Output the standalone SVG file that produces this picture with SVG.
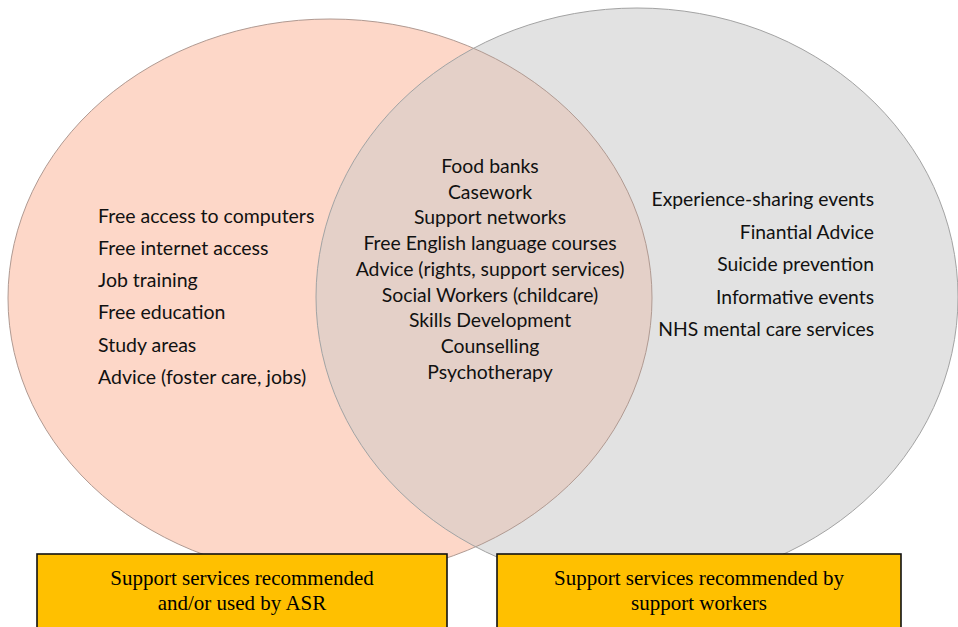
<svg xmlns="http://www.w3.org/2000/svg" width="958" height="627" viewBox="0 0 958 627">
  <style>
    .item { font-family: Lato, "Liberation Sans", sans-serif; font-size: 19.5px; fill: #111; }
    .mid { text-anchor: middle; font-size: 19.4px; }
    .end { text-anchor: end; font-size: 19.3px; }
    .label { font-family: "Liberation Serif", "Times New Roman", serif; font-size: 21px; fill: #000; text-anchor: middle; }
    .box { fill: #FFC000; stroke: #111; stroke-width: 1.6; }
  </style>
  <defs>
    <clipPath id="clipRight">
      <ellipse cx="637" cy="297" rx="321" ry="289"/>
    </clipPath>
  </defs>

  <rect width="958" height="627" fill="#fff"/>

  <!-- Venn sets -->
  <g id="set-asr">
    <ellipse cx="330" cy="298" rx="322" ry="279" fill="#FDD7C8"/>
  </g>
  <g id="set-workers">
    <ellipse cx="637" cy="297" rx="321" ry="289" fill="#E2E2E2"/>
  </g>
  <g id="set-overlap">
    <ellipse cx="330" cy="298" rx="322" ry="279" fill="#E4D0C8" clip-path="url(#clipRight)"/>
  </g>
  <g id="outlines" fill="none" stroke-width="1">
    <ellipse cx="330" cy="298" rx="322" ry="279" stroke="#B09A92"/>
    <ellipse cx="637" cy="297" rx="321" ry="289" stroke="#A3A3A3"/>
  </g>

  <!-- ASR-only items -->
  <g id="asr-items" class="item">
    <text x="98" y="223">Free access to computers</text>
    <text x="98" y="255">Free internet access</text>
    <text x="98" y="287">Job training</text>
    <text x="98" y="319">Free education</text>
    <text x="98" y="352">Study areas</text>
    <text x="98" y="384">Advice (foster care, jobs)</text>
  </g>

  <!-- Shared items -->
  <g id="shared-items" class="item mid">
    <text x="490" y="173">Food banks</text>
    <text x="490" y="199">Casework</text>
    <text x="490" y="224">Support networks</text>
    <text x="490" y="250">Free English language courses</text>
    <text x="490" y="276">Advice (rights, support services)</text>
    <text x="490" y="302">Social Workers (childcare)</text>
    <text x="490" y="327">Skills Development</text>
    <text x="490" y="353">Counselling</text>
    <text x="490" y="379">Psychotherapy</text>
  </g>

  <!-- Support-worker-only items -->
  <g id="worker-items" class="item end">
    <text x="874" y="206">Experience-sharing events</text>
    <text x="874" y="239">Finantial Advice</text>
    <text x="874" y="271">Suicide prevention</text>
    <text x="874" y="304">Informative events</text>
    <text x="874" y="336">NHS mental care services</text>
  </g>

  <!-- Legend boxes -->
  <g id="legend-asr">
    <rect class="box" x="37" y="554" width="410" height="90"/>
    <text class="label" x="242" y="585">Support services recommended</text>
    <text class="label" x="242" y="610">and/or used by ASR</text>
  </g>
  <g id="legend-workers">
    <rect class="box" x="497" y="554" width="404" height="90"/>
    <text class="label" x="699" y="585">Support services recommended by</text>
    <text class="label" x="699" y="610">support workers</text>
  </g>
</svg>
